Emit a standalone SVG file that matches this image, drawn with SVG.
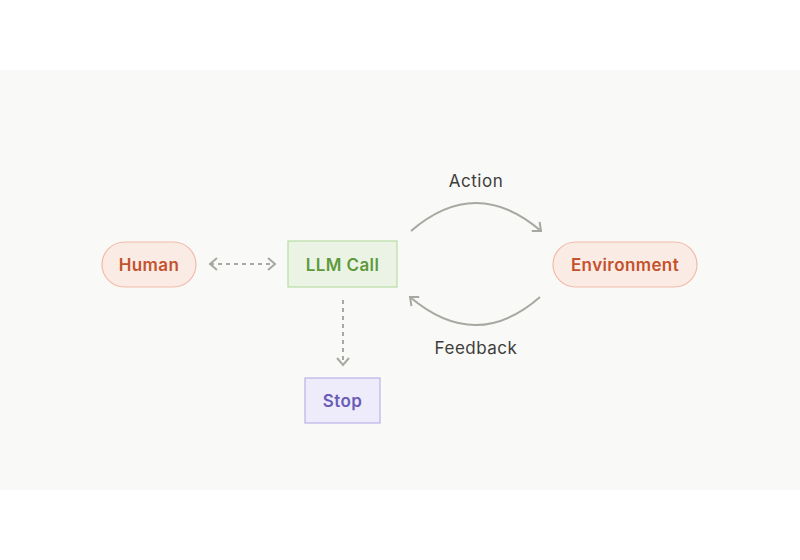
<svg xmlns="http://www.w3.org/2000/svg" width="800" height="560" viewBox="0 0 800 560">
<style>
.lbl{font-family:Inter,"Open Sans","Liberation Sans",sans-serif;font-size:17px;font-weight:600;letter-spacing:0.4px;text-anchor:middle;dominant-baseline:central}
.edge{font-family:Inter,"Open Sans","Liberation Sans",sans-serif;font-size:17px;font-weight:400;letter-spacing:0.5px;fill:#3d3d3a;text-anchor:middle;dominant-baseline:central}
.red rect{fill:#fbebe5;stroke:#f2bba8;stroke-width:1.2}
.red text{fill:#c4522c}
.grn rect{fill:#ebf4e4;stroke:#b8dca4;stroke-width:1.2}
.grn text{fill:#5e9a3c}
.pur rect{fill:#eeecfa;stroke:#b9b2e8;stroke-width:1.2}
.pur text{fill:#6a5db8}
.ln{fill:none;stroke:#a8a8a2;stroke-width:2}
.dash{stroke-dasharray:4 4}
</style>
<defs>
<marker id="ch" viewBox="0 0 14 14" refX="12" refY="7" markerWidth="14" markerHeight="14" markerUnits="userSpaceOnUse" orient="auto-start-reverse">
<path d="M5,1 L12,7 L5,13" fill="none" stroke="#a8a8a2" stroke-width="2"/>
</marker>
</defs>
<rect x="0" y="0" width="800" height="560" fill="#ffffff"/>
<rect x="0" y="70" width="800" height="420" fill="#f9f9f7"/>
<g id="connectors">
<path class="ln dash" d="M210,264 L275,264" marker-start="url(#ch)" marker-end="url(#ch)"/>
<path class="ln dash" d="M343,300 L343,365" marker-end="url(#ch)"/>
<path class="ln" d="M411,231 Q476,175 541,231" marker-end="url(#ch)"/>
<path class="ln" d="M540,297 Q476,353 410,297" marker-end="url(#ch)"/>
<text class="edge" x="476" y="181">Action</text>
<text class="edge" x="476" y="348">Feedback</text>
</g>
<g id="human" class="red"><rect x="102" y="242" width="94" height="45" rx="22.5"/><text class="lbl" x="149" y="265">Human</text></g>
<g id="llm" class="grn"><rect x="288" y="241" width="109" height="46"/><text class="lbl" x="342.5" y="264.5">LLM Call</text></g>
<g id="env" class="red"><rect x="553" y="242" width="144" height="45" rx="22.5"/><text class="lbl" x="625" y="265">Environment</text></g>
<g id="stop" class="pur"><rect x="305" y="378" width="75" height="45"/><text class="lbl" x="342.5" y="401">Stop</text></g>
</svg>
